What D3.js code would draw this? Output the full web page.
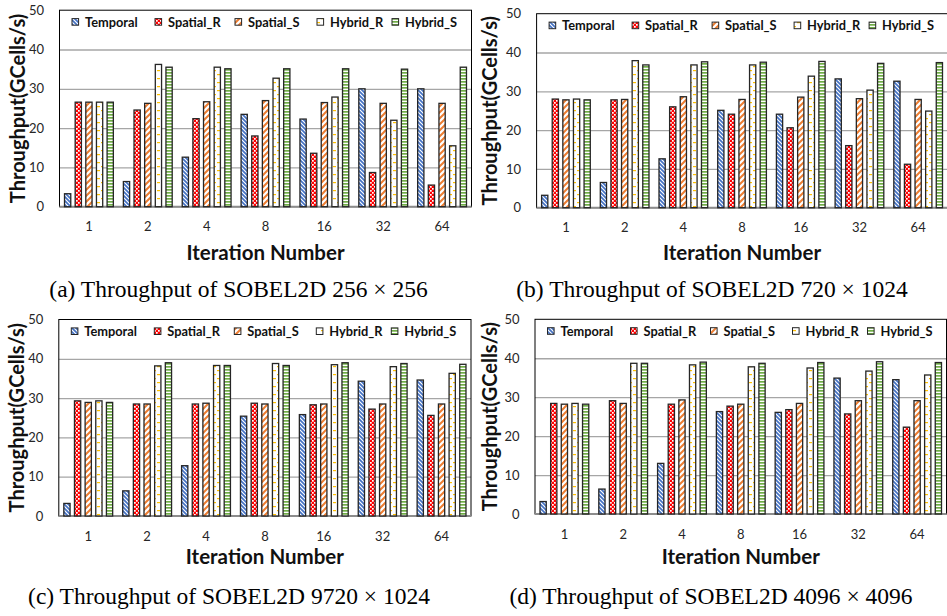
<!DOCTYPE html>
<html><head><meta charset="utf-8">
<script src="https://cdn.jsdelivr.net/npm/d3@7"></script>
<style>body{margin:0;background:#fff}svg{display:block}</style>
</head><body>
<svg id="chart" width="947" height="616"></svg>
<script>
const categories = ["1","2","4","8","16","32","64"];
const seriesNames = ["Temporal","Spatial_R","Spatial_S","Hybrid_R","Hybrid_S"];
const yTicks = [0,10,20,30,40,50];

// rows: Temporal, Spatial_R, Spatial_S, Hybrid_R, Hybrid_S ; columns: iteration numbers
const throughputA = [
  [3.3, 6.4, 12.6, 23.5, 22.3, 30.0, 30.0],
  [26.6, 24.6, 22.4, 18.0, 13.6, 8.7, 5.5],
  [26.6, 26.3, 26.7, 27.0, 26.5, 26.3, 26.3],
  [26.6, 36.2, 35.5, 32.7, 27.9, 22.0, 15.5],
  [26.6, 35.5, 35.1, 35.1, 35.1, 35.0, 35.5]
];
const throughputB = [
  [3.2, 6.5, 12.6, 25.1, 24.1, 33.2, 32.6],
  [28.0, 27.8, 26.0, 24.1, 20.6, 16.0, 11.2],
  [27.8, 27.9, 28.6, 27.9, 28.5, 28.1, 27.9],
  [28.0, 37.9, 36.8, 36.8, 33.9, 30.3, 24.9],
  [27.8, 36.8, 37.6, 37.5, 37.7, 37.2, 37.4]
];
const throughputC = [
  [3.2, 6.4, 12.8, 25.4, 25.8, 34.3, 34.6],
  [29.3, 28.5, 28.5, 28.7, 28.3, 27.2, 25.6],
  [28.9, 28.5, 28.7, 28.5, 28.5, 28.5, 28.5],
  [29.3, 38.2, 38.3, 38.8, 38.5, 38.0, 36.3],
  [28.9, 39.0, 38.3, 38.3, 39.0, 38.8, 38.6]
];
const throughputD = [
  [3.2, 6.4, 13.0, 26.3, 26.1, 34.9, 34.5],
  [28.4, 29.1, 28.2, 27.7, 26.8, 25.7, 22.3],
  [28.2, 28.4, 29.3, 28.2, 28.4, 29.1, 29.1],
  [28.4, 38.7, 38.3, 37.8, 37.5, 36.7, 35.7],
  [28.2, 38.7, 39.0, 38.7, 38.9, 39.1, 38.9]
];
const captions = [
  "(a) Throughput of SOBEL2D 256 × 256",
  "(b) Throughput of SOBEL2D 720 × 1024",
  "(c) Throughput of SOBEL2D 9720 × 1024",
  "(d) Throughput of SOBEL2D 4096 × 4096"
];
const yTitle = "Throughput(GCells/s)";
const xTitle = "Iteration Number";

const panels = [
  {data: throughputA, cap: captions[0], L: 59.5, R: 471.5, T: 10.2, B: 206.7, ytX: 17.5, xtY: 259.5, capX: 238.5, capY: 297},
  {data: throughputB, cap: captions[1], L: 536.6, R: 947.5, T: 13.7, B: 207.7, ytX: 490, xtY: 259.5, capX: 712, capY: 297},
  {data: throughputC, cap: captions[2], L: 58.8, R: 471, T: 319.5, B: 516, ytX: 17, xtY: 563.5, capX: 229, capY: 604},
  {data: throughputD, cap: captions[3], L: 535, R: 946.5, T: 319.3, B: 514, ytX: 490, xtY: 563.5, capX: 711, capY: 604}
];
const legendOffsets = [12.5, 95.5, 175.5, 257.5, 332.5];

const svg = d3.select("#chart");
const defs = svg.append("defs");
const sansFont = "Lato, 'Open Sans', sans-serif";

function pat(id, w, h, build) {
  const p = defs.append("pattern").attr("id", id).attr("patternUnits", "userSpaceOnUse")
    .attr("width", w).attr("height", h);
  p.append("rect").attr("width", w).attr("height", h).attr("fill", "#fff");
  build(p);
}
// Temporal: blue downward diagonal
pat("p0", 4, 4, p => p.append("path").attr("d", "M-1,3 l2,2 M0,0 l4,4 M3,-1 l2,2")
  .attr("stroke", "#4472C4").attr("stroke-width", 1.7));
// Spatial_R: red checkerboard
pat("p1", 4, 4, p => {
  p.select("rect").attr("fill", "#FF0000");
  p.append("rect").attr("x", 0).attr("y", 0).attr("width", 1.7).attr("height", 1.7).attr("fill", "#fff");
  p.append("rect").attr("x", 2).attr("y", 2).attr("width", 1.7).attr("height", 1.7).attr("fill", "#fff");
});
// Spatial_S: orange upward diagonal
pat("p2", 6, 6, p => p.append("path").attr("d", "M-1.5,1.5 l3,-3 M0,6 l6,-6 M4.5,7.5 l3,-3")
  .attr("stroke", "#ED7D31").attr("stroke-width", 2));
// Hybrid_R: yellow short dashes
pat("p3", 8, 8, p => {
  p.append("rect").attr("x", 1).attr("y", 2).attr("width", 3).attr("height", 1.2).attr("fill", "#FFC000");
  p.append("rect").attr("x", 5).attr("y", 6).attr("width", 3).attr("height", 1.2).attr("fill", "#FFC000");
});
// Hybrid_S: green horizontal lines
pat("p4", 4, 3, p => p.append("rect").attr("x", 0).attr("y", 0).attr("width", 4).attr("height", 1.7).attr("fill", "#70AD47"));

panels.forEach(P => {
  const g = svg.append("g");
  const x0 = d3.scaleBand().domain(categories).range([P.L, P.R]).paddingInner(0.15).paddingOuter(0.075);
  const x1 = d3.scaleBand().domain(seriesNames).range([0, x0.bandwidth()]).paddingInner(0.3).paddingOuter(0);
  const y = d3.scaleLinear().domain([0, 50]).range([P.B, P.T]);

  // grid
  const grid = g.append("g").attr("transform", `translate(${P.L},0)`)
    .call(d3.axisLeft(y).tickValues(yTicks.filter(t => t > 0 && t < 50)).tickSize(-(P.R - P.L)).tickFormat(""));
  grid.select(".domain").remove();
  grid.selectAll("line").attr("stroke", "#A6A6A6").attr("stroke-width", 1.3);

  // frame
  g.append("rect").attr("x", P.L).attr("y", P.T).attr("width", P.R - P.L).attr("height", P.B - P.T)
    .attr("fill", "none").attr("stroke", "#000").attr("stroke-width", 1);
  g.append("line").attr("x1", P.L).attr("x2", P.R).attr("y1", y(0)).attr("y2", y(0))
    .attr("stroke", "#8C8C8C").attr("stroke-width", 2);

  // y axis labels
  const ya = g.append("g").attr("transform", `translate(${P.L},0)`)
    .call(d3.axisLeft(y).tickValues(yTicks).tickSize(0).tickPadding(15.5));
  ya.select(".domain").remove();
  ya.selectAll("text").attr("font-family", sansFont).attr("font-size", 13).attr("fill", "#262626");

  // x axis labels
  const xa = g.append("g").attr("transform", `translate(0,${P.B})`)
    .call(d3.axisBottom(x0).tickSize(0).tickPadding(15.5));
  xa.select(".domain").remove();
  xa.selectAll("text").attr("font-family", sansFont).attr("font-size", 13).attr("fill", "#262626");

  // bars
  seriesNames.forEach((s, si) => {
    g.append("g").selectAll("rect").data(P.data[si]).join("rect")
      .attr("x", (d, i) => x0(categories[i]) + x1(s) + 0.6)
      .attr("width", x1.bandwidth() - 1.2)
      .attr("y", d => y(d))
      .attr("height", d => y(0) - y(d))
      .attr("fill", `url(#p${si})`)
      .attr("stroke", "#262626").attr("stroke-width", 1.3);
  });

  // legend
  const ly = P.T + 11.7;
  seriesNames.forEach((s, si) => {
    const lx = P.L + legendOffsets[si];
    g.append("rect").attr("x", lx).attr("y", ly - 3.3).attr("width", 6.6).attr("height", 6.6)
      .attr("fill", `url(#p${si})`).attr("stroke", "#262626").attr("stroke-width", 1);
    g.append("text").attr("x", lx + 13).attr("y", ly).attr("dy", "0.36em")
      .attr("font-family", sansFont).attr("font-weight", "bold").attr("font-size", 12.8)
      .attr("fill", "#111").text(s);
  });

  // axis titles
  g.append("text").attr("transform", `translate(${P.ytX},${(P.T + P.B) / 2}) rotate(-90)`)
    .attr("text-anchor", "middle").attr("dy", "0.35em")
    .attr("font-family", sansFont).attr("font-weight", "bold").attr("font-size", 20)
    .attr("fill", "#111").text(yTitle);
  g.append("text").attr("x", (P.L + P.R) / 2).attr("y", P.xtY)
    .attr("text-anchor", "middle")
    .attr("font-family", sansFont).attr("font-weight", "bold").attr("font-size", 20.5)
    .attr("fill", "#111").text(xTitle);

  // caption
  g.append("text").attr("x", P.capX).attr("y", P.capY).attr("text-anchor", "middle")
    .attr("font-family", "'Liberation Serif', 'DejaVu Serif', serif").attr("font-size", 23.5)
    .attr("fill", "#000").text(P.cap);
});
</script>
</body></html>
